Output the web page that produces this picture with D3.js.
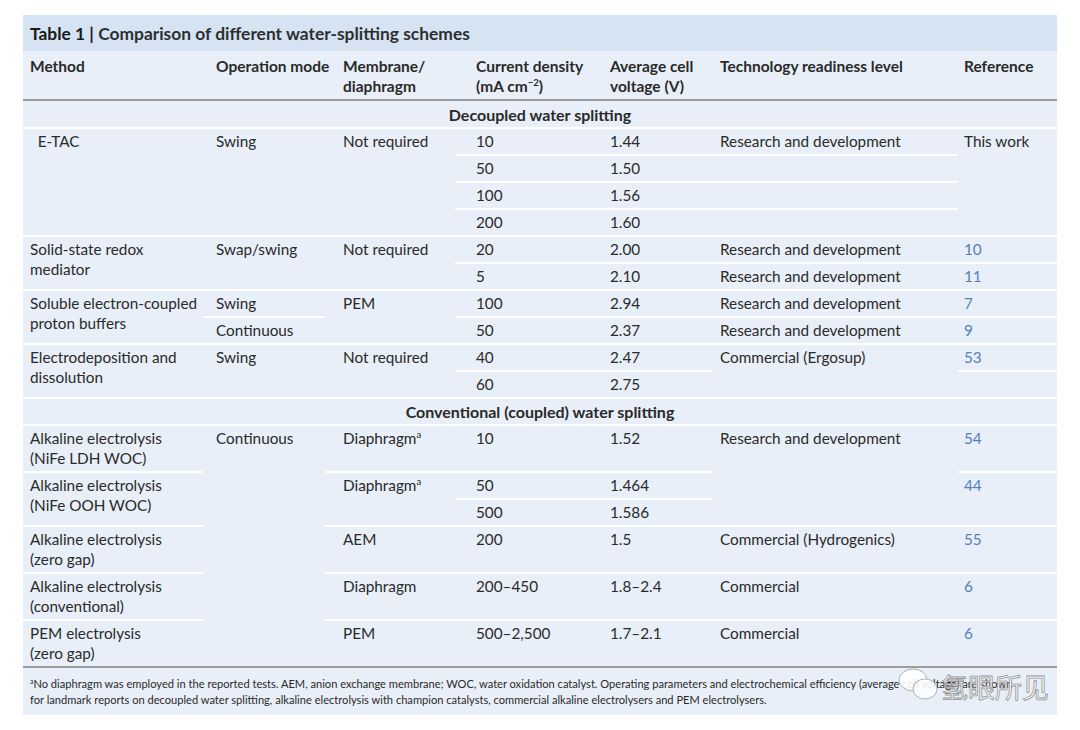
<!DOCTYPE html>
<html><head><meta charset="utf-8">
<script src="https://cdn.jsdelivr.net/npm/d3@7"></script>
<style>
body{margin:0;background:#fff;}
svg{display:block;font-family:Lato,"Noto Sans",sans-serif;}
</style></head><body>
<svg id="c" width="1080" height="730"></svg>
<script>
// ---------------- DATA ----------------
const titleBold = "Table 1 | ";
const titleRest = "Comparison of different water-splitting schemes";
const headers = [
  ["Method"],
  ["Operation mode"],
  ["Membrane/", "diaphragm"],
  ["Current density", "(mA cm^{−2})"],
  ["Average cell", "voltage (V)"],
  ["Technology readiness level"],
  ["Reference"]
];
const sectionTitles = ["Decoupled water splitting", "Conventional (coupled) water splitting"];
// null = merged with the cell above; "|" = line break
const decoupledRows = [
  ["\u2002E-TAC", "Swing", "Not required", "10", "1.44", "Research and development", "This work"],
  [null, null, null, "50", "1.50", "", null],
  [null, null, null, "100", "1.56", "", null],
  [null, null, null, "200", "1.60", "", null],
  ["Solid-state redox|mediator", "Swap/swing", "Not required", "20", "2.00", "Research and development", "10"],
  [null, null, null, "5", "2.10", "Research and development", "11"],
  ["Soluble electron-coupled|proton buffers", "Swing", "PEM", "100", "2.94", "Research and development", "7"],
  [null, "Continuous", null, "50", "2.37", "Research and development", "9"],
  ["Electrodeposition and|dissolution", "Swing", "Not required", "40", "2.47", "Commercial (Ergosup)", "53"],
  [null, null, null, "60", "2.75", null, ""]
];
const coupledRows = [
  ["Alkaline electrolysis|(NiFe LDH WOC)", "Continuous", "Diaphragm^{a}", "10", "1.52", "Research and development", "54"],
  ["Alkaline electrolysis|(NiFe OOH WOC)", null, "Diaphragm^{a}", "50", "1.464", null, "44"],
  [null, null, null, "500", "1.586", null, null],
  ["Alkaline electrolysis|(zero gap)", null, "AEM", "200", "1.5", "Commercial (Hydrogenics)", "55"],
  ["Alkaline electrolysis|(conventional)", null, "Diaphragm", "200–450", "1.8–2.4", "Commercial", "6"],
  ["PEM electrolysis|(zero gap)", null, "PEM", "500–2,500", "1.7–2.1", "Commercial", "6"]
];
const footnoteLines = [
  "^{a}No diaphragm was employed in the reported tests. AEM, anion exchange membrane; WOC, water oxidation catalyst. Operating parameters and electrochemical efficiency (average cell voltage) are shown",
  "for landmark reports on decoupled water splitting, alkaline electrolysis with champion catalysts, commercial alkaline electrolysers and PEM electrolysers."
];
const watermark = "氢眼所见";

// ---------------- LAYOUT ----------------
const X0 = 23, X1 = 1057;
const colLeft = d3.scaleOrdinal().domain(d3.range(7)).range([23, 203, 325, 455, 603, 713, 958]);
const colText = d3.scaleOrdinal().domain(d3.range(7)).range([30, 216, 343, 476, 610, 720, 964]);
const colRight = c => c < 6 ? colLeft(c + 1) : X1;
const ROW = 27, LINE = 20;
const FS = 15.3, FH = 15.5, FSEC = 16, FFOOT = 11.1;
const C = {
  title: "#d5e3f2", body: "#e8eff8", text: "#2a2a2a", link: "#5580b8",
  rule: "#9c9c9c", sep: "#ffffff"
};

const svg = d3.select("#c");

// background
svg.append("rect").attr("x", X0).attr("y", 15).attr("width", X1 - X0).attr("height", 700).attr("fill", C.body);
svg.append("rect").attr("x", X0).attr("y", 15).attr("width", X1 - X0).attr("height", 36).attr("fill", C.title);

// helper: write text with ^{sup}
function rich(sel, str, size) {
  const parts = str.split(/(\^\{[^}]*\})/).filter(s => s.length);
  let shifted = false;
  parts.forEach(p => {
    const m = p.match(/^\^\{([^}]*)\}$/);
    if (m) {
      sel.append("tspan").attr("font-size", size * 0.62).attr("dy", -size * 0.38).text(m[1]);
      shifted = true;
    } else {
      const t = sel.append("tspan").text(p);
      if (shifted) { t.attr("dy", size * 0.38); shifted = false; }
    }
  });
}

// title
const tt = svg.append("text").attr("x", 30).attr("y", 39.5).attr("font-size", 17.4).attr("fill", "#1a1a1a");
tt.append("tspan").attr("font-weight", 700).text(titleBold);
tt.append("tspan").attr("font-weight", 700).attr("opacity", 0.9).text(titleRest);

// headers
headers.forEach((lines, c) => {
  lines.forEach((l, i) => {
    const t = svg.append("text").attr("x", colText(c)).attr("y", 72 + i * LINE)
      .attr("font-size", FH).attr("font-weight", 700).attr("fill", C.text);
    rich(t, l, FH);
  });
});
// header rule
svg.append("line").attr("x1", X0).attr("x2", X1).attr("y1", 100).attr("y2", 100)
  .attr("stroke", C.rule).attr("stroke-width", 2);

const sepG = svg.append("g");
const txtG = svg.append("g");

function drawSection(title, rows, top, isLast) {
  // section title row
  txtG.append("text").attr("x", 540).attr("y", top + 19.5).attr("text-anchor", "middle")
    .attr("font-size", FSEC).attr("font-weight", 700).attr("fill", C.text).text(title);
  sepG.append("line").attr("x1", X0).attr("x2", X1).attr("y1", top + ROW).attr("y2", top + ROW)
    .attr("stroke", C.sep).attr("stroke-width", 2);
  // row heights
  const heights = rows.map(() => ROW);
  rows.forEach((r, ri) => r.forEach((cell, c) => {
    if (cell === null) return;
    let span = 1;
    while (ri + span < rows.length && rows[ri + span][c] === null) span++;
    const n = cell.split("|").length;
    if (span === 1) heights[ri] = Math.max(heights[ri], 7 + LINE * n);
  }));
  const ys = [top + ROW];
  heights.forEach((h, i) => ys.push(ys[i] + h));
  const bottom = ys[ys.length - 1];
  rows.forEach((r, ri) => r.forEach((cell, c) => {
    if (cell === null) return;
    let span = 1;
    while (ri + span < rows.length && rows[ri + span][c] === null) span++;
    const cy = ys[ri], cb = ys[ri + span];
    if (!(isLast && cb === bottom)) {
      sepG.append("line").attr("x1", colLeft(c)).attr("x2", colRight(c)).attr("y1", cb).attr("y2", cb)
        .attr("stroke", C.sep).attr("stroke-width", 2);
    }
    const isRef = c === 6 && /^\d+$/.test(cell);
    cell.split("|").forEach((l, i) => {
      const t = txtG.append("text").attr("x", colText(c)).attr("y", cy + 19 + i * LINE)
        .attr("font-size", FS).attr("fill", isRef ? C.link : C.text)
        .style("white-space", "pre");
      rich(t, l, FS);
    });
  }));
  return bottom;
}

let y = 101;
y = drawSection(sectionTitles[0], decoupledRows, y, false);
y = drawSection(sectionTitles[1], coupledRows, y, true);

// bottom rule
svg.append("line").attr("x1", X0).attr("x2", X1).attr("y1", y).attr("y2", y)
  .attr("stroke", C.rule).attr("stroke-width", 2);

// footnote
footnoteLines.forEach((l, i) => {
  const t = svg.append("text").attr("x", 30).attr("y", y + 21 + i * 16)
    .attr("font-size", FFOOT).attr("fill", C.text);
  rich(t, l, FFOOT);
});

// watermark (overlays the footnote, as in the source image)
const wm = svg.append("g").attr("opacity", 0.9);
wm.append("ellipse").attr("cx", 913).attr("cy", 680).attr("rx", 14).attr("ry", 11)
  .attr("fill", "#fff").attr("stroke", "#aaa").attr("stroke-width", 1);
wm.append("ellipse").attr("cx", 925).attr("cy", 689).attr("rx", 12).attr("ry", 10)
  .attr("fill", "#fff").attr("stroke", "#aaa").attr("stroke-width", 1);
wm.append("text").attr("x", 941).attr("y", 698).attr("font-size", 27)
  .attr("font-family", "'Noto Sans CJK SC'").attr("fill", "#fff")
  .attr("stroke", "#8a8a8a").attr("stroke-width", 0.8).text(watermark);
</script>
</body></html>
